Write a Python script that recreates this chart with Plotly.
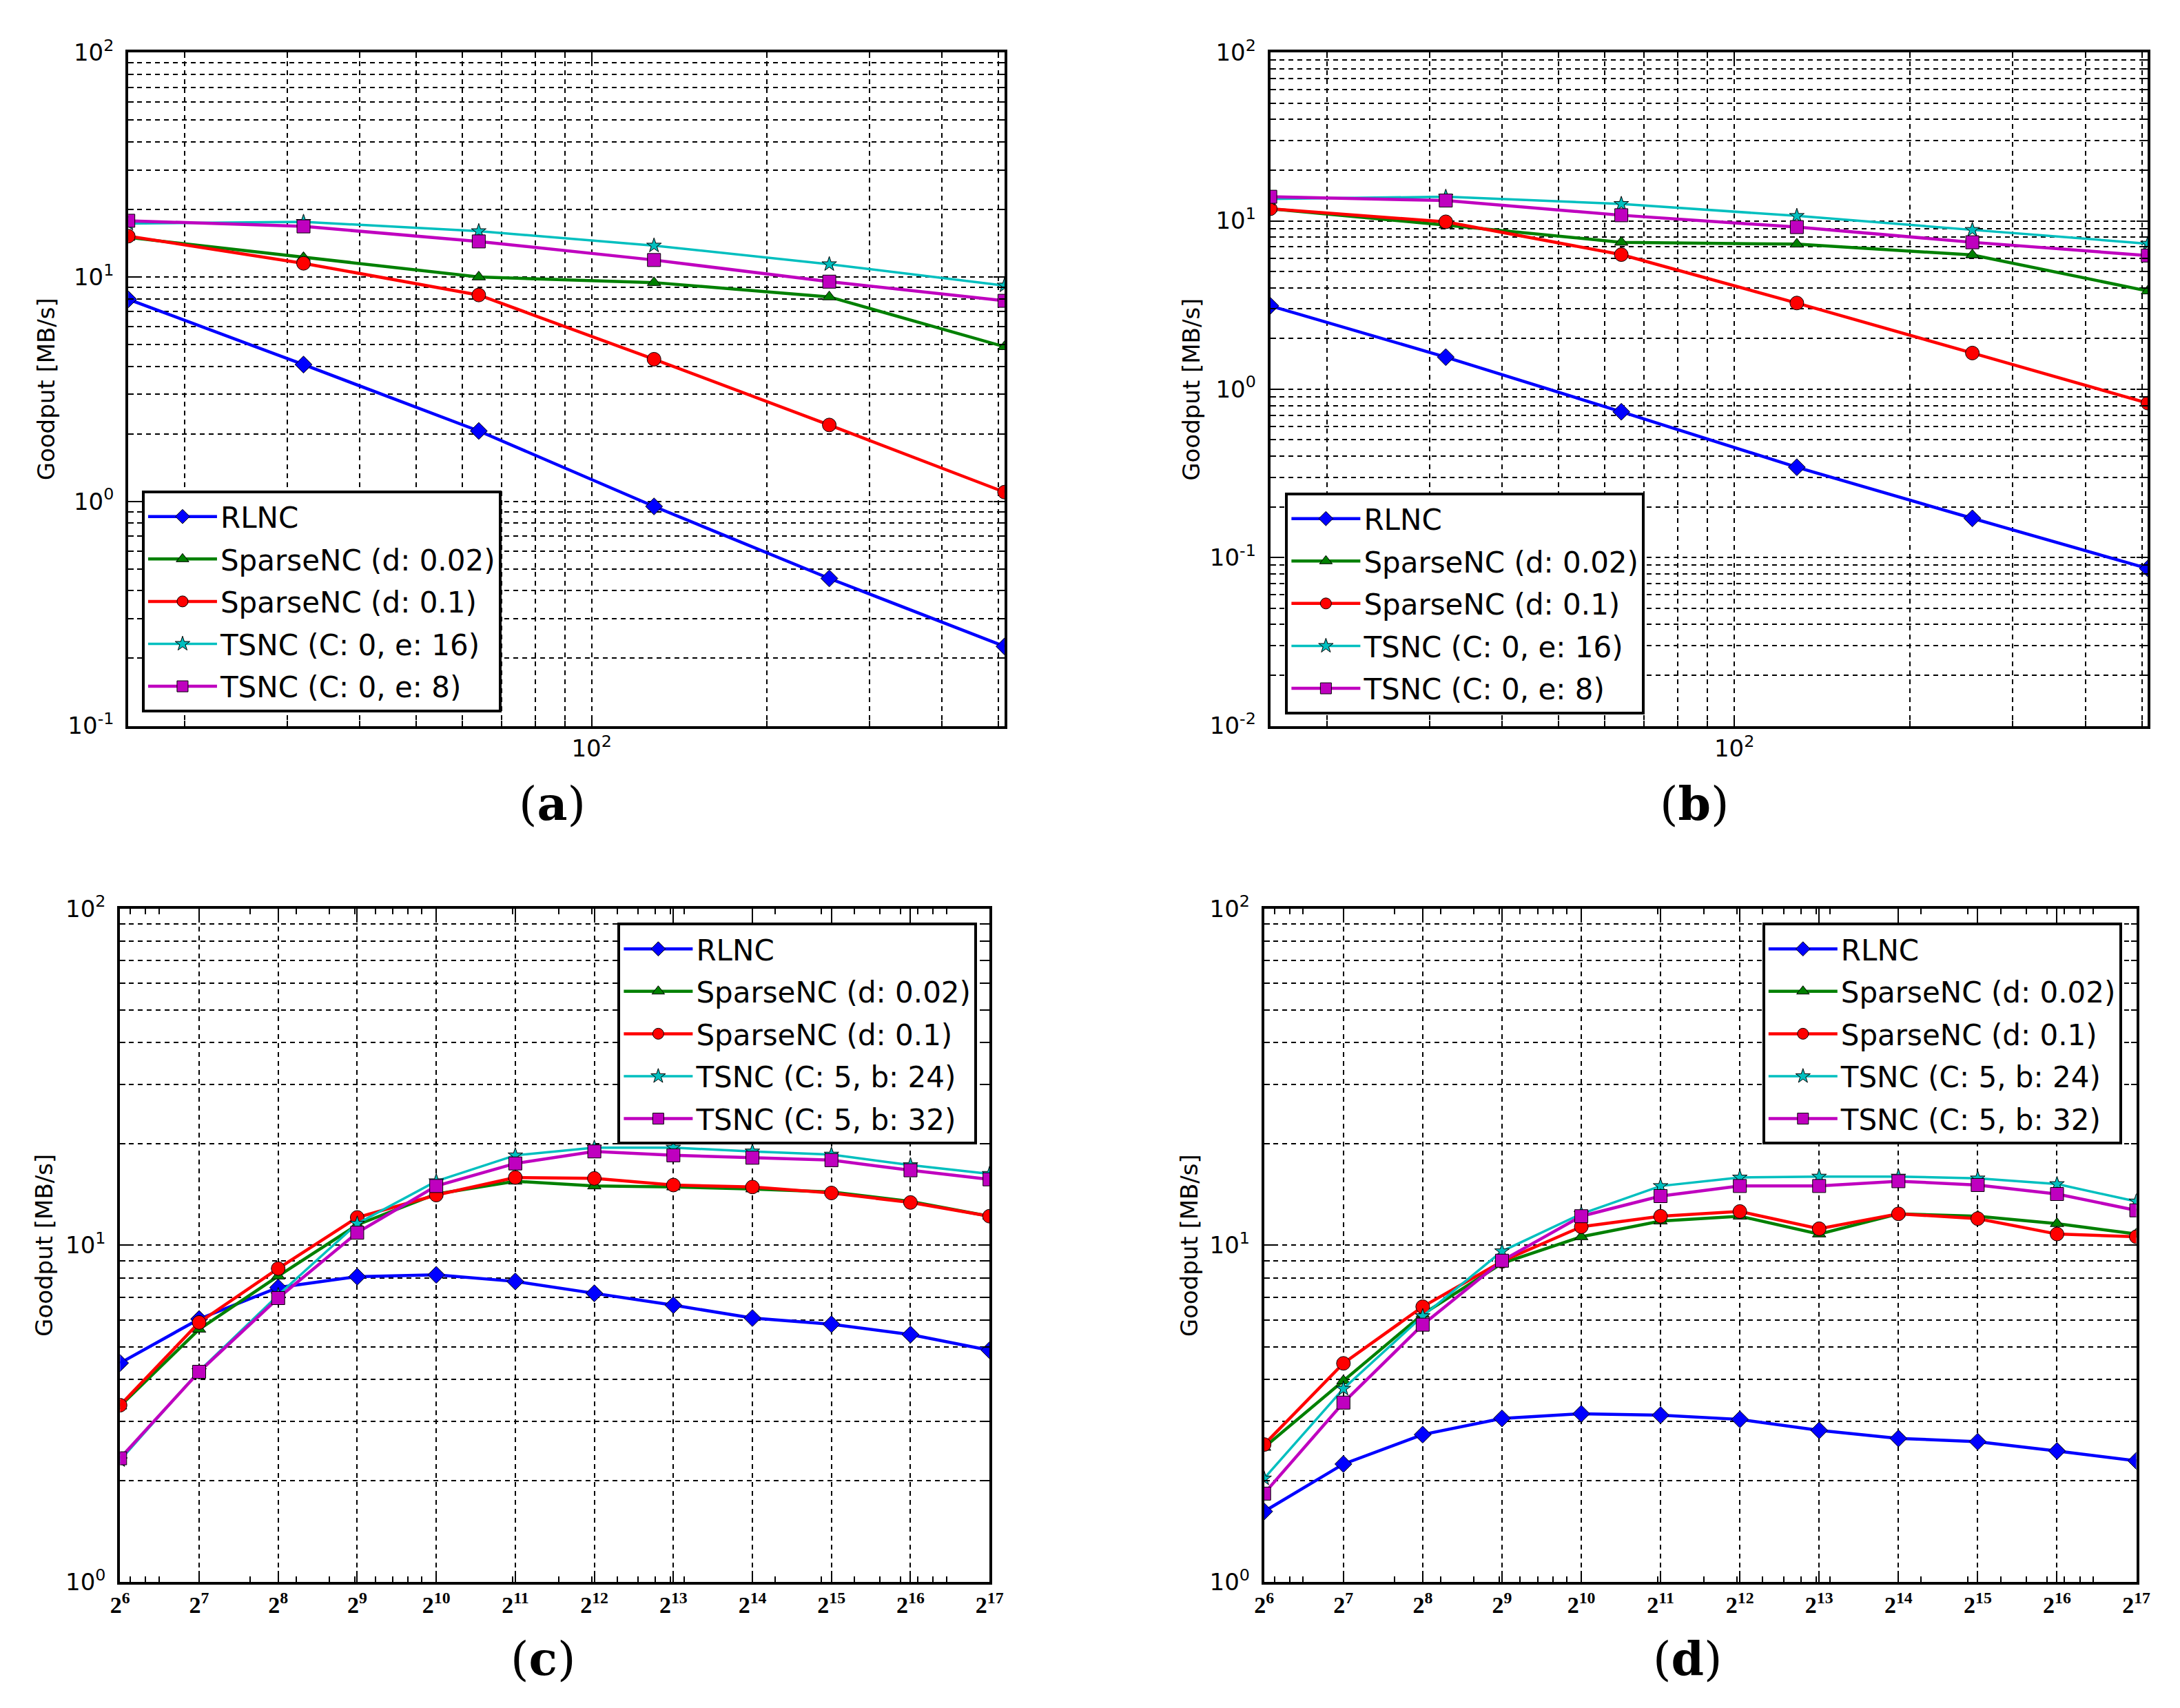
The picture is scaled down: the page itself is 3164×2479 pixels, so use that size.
import plotly.graph_objects as go

W, H = 3164, 2479

# x values
block_sizes = [16, 32, 64, 128, 256, 512]
gen_sizes = [64, 128, 256, 512, 1024, 2048, 4096, 8192, 16384, 32768, 65536, 131072]
gen_ticktext = ["2<sup>%d</sup>" % k for k in range(6, 18)]

names_ab = ["RLNC", "SparseNC (d: 0.02)", "SparseNC (d: 0.1)",
            "TSNC (C: 0, e: 16)", "TSNC (C: 0, e: 8)"]
names_cd = ["RLNC", "SparseNC (d: 0.02)", "SparseNC (d: 0.1)",
            "TSNC (C: 5, b: 24)", "TSNC (C: 5, b: 32)"]

# panel (a)
rlnc_a = [7.95, 4.07, 2.06, 0.95, 0.454, 0.226]
sp002_a = [15.0, 12.2, 10.0, 9.44, 8.15, 4.89]
sp01_a = [15.2, 11.5, 8.31, 4.30, 2.19, 1.10]
tsnc16_a = [17.3, 17.6, 16.0, 13.8, 11.4, 9.16]
tsnc8_a = [17.8, 16.8, 14.4, 11.9, 9.53, 7.83]

# panel (b)
rlnc_b = [3.13, 1.55, 0.734, 0.344, 0.171, 0.086]
sp002_b = [11.8, 9.44, 7.46, 7.27, 6.27, 3.83]
sp01_b = [11.8, 9.87, 6.30, 3.25, 1.64, 0.826]
tsnc16_b = [13.5, 13.9, 12.6, 10.7, 8.84, 7.32]
tsnc8_b = [13.9, 13.2, 10.8, 9.18, 7.46, 6.22]

# panel (c)
rlnc_c = [4.47, 6.04, 7.49, 8.07, 8.17, 7.81, 7.20, 6.64, 6.08, 5.83, 5.43, 4.88]
sp002_c = [3.33, 5.63, 8.10, 11.5, 14.2, 15.5, 15.0, 14.9, 14.7, 14.4, 13.5, 12.2]
sp01_c = [3.35, 5.90, 8.53, 12.1, 14.1, 15.9, 15.8, 15.1, 14.9, 14.3, 13.4, 12.2]
tsnc24_c = [2.30, 4.23, 7.11, 11.6, 15.5, 18.5, 19.5, 19.5, 19.0, 18.6, 17.3, 16.3]
tsnc32_c = [2.33, 4.21, 6.97, 10.9, 15.0, 17.5, 19.0, 18.5, 18.2, 17.9, 16.7, 15.7]

# panel (d)
rlnc_d = [1.62, 2.24, 2.74, 3.06, 3.16, 3.13, 3.04, 2.82, 2.67, 2.61, 2.45, 2.29]
sp002_d = [2.51, 3.96, 6.24, 8.84, 10.6, 11.8, 12.2, 10.8, 12.4, 12.2, 11.6, 10.8]
sp01_d = [2.56, 4.46, 6.57, 8.96, 11.35, 12.2, 12.6, 11.2, 12.4, 12.0, 10.8, 10.6]
tsnc24_d = [2.03, 3.75, 6.16, 9.60, 12.4, 15.0, 15.9, 16.0, 16.0, 15.8, 15.2, 13.5]
tsnc32_d = [1.83, 3.41, 5.81, 9.00, 12.2, 14.0, 15.0, 15.0, 15.5, 15.1, 14.2, 12.7]

STYLES = [
    dict(color='#0000ff', symbol='diamond', size=19, width=4.5),
    dict(color='#008000', symbol='triangle-up', size=17, width=4.5),
    dict(color='#ff0000', symbol='circle', size=20, width=4.5),
    dict(color='#00bfbf', symbol='star', size=16, width=3.5),
    dict(color='#bf00bf', symbol='square', size=19, width=4.5),
]

DASH = "7px,6px"
SANS = "DejaVu Sans"
SERIF = "DejaVu Serif"
TICKSERIF = "Liberation Serif"

# panel boxes in pixels: left, right, top, bottom
BOX = {1: (166, 1452, 45, 1040), 2: (1842, 3130, 45, 1040),
       3: (154, 1430, 1310, 2305), 4: (1833, 3113, 1310, 2305)}


def fx(p):
    return p / W


def fy(p):
    return 1 - p / H


def decade_minor(lo, hi):
    out = []
    for k in range(lo, hi):
        out += [m * 10 ** k for m in range(2, 10)]
    return out


def axis_common():
    return dict(type='log', showline=True, linecolor='black', linewidth=4,
                mirror='ticks', ticks='inside', ticklen=16, tickwidth=1.5,
                tickcolor='black', showgrid=True, gridcolor='black',
                gridwidth=1.5, griddash=DASH, zeroline=False,
                tickmode='array')


def minor(vals, grid):
    return dict(tickmode='array', tickvals=vals, ticks='inside', ticklen=8,
                tickwidth=1.5, tickcolor='black', showgrid=grid,
                gridcolor='black', gridwidth=1.5, griddash=DASH)


fig = go.Figure()

panels = [
    (1, block_sizes, [rlnc_a, sp002_a, sp01_a, tsnc16_a, tsnc8_a], names_ab),
    (2, block_sizes, [rlnc_b, sp002_b, sp01_b, tsnc16_b, tsnc8_b], names_ab),
    (3, gen_sizes, [rlnc_c, sp002_c, sp01_c, tsnc24_c, tsnc32_c], names_cd),
    (4, gen_sizes, [rlnc_d, sp002_d, sp01_d, tsnc24_d, tsnc32_d], names_cd),
]

for idx, xs, series, names in panels:
    sfx = '' if idx == 1 else str(idx)
    leg = 'legend' if idx == 1 else 'legend%d' % idx
    for ys, name, st in zip(series, names, STYLES):
        fig.add_trace(go.Scatter(
            x=xs, y=ys, name=name, mode='lines+markers',
            xaxis='x' + sfx, yaxis='y' + sfx, legend=leg,
            legendgroup='%s_%s' % (leg, name),
            line=dict(color=st['color'], width=st['width']),
            marker=dict(symbol=st['symbol'], size=st['size'], color=st['color'],
                        line=dict(color='black', width=1))))

layout = dict(width=W, height=H, margin=dict(l=0, r=0, t=0, b=0),
              paper_bgcolor='white', plot_bgcolor='white', showlegend=True,
              font=dict(family=SANS, color='black'))

ylo = {1: -1, 2: -2, 3: 0, 4: 0}
for idx in range(1, 5):
    l, r, t, b = BOX[idx]
    sfx = '' if idx == 1 else str(idx)
    xa = axis_common()
    xa['domain'] = [fx(l), fx(r)]
    xa['anchor'] = 'y' + sfx
    if idx <= 2:
        xa['range'] = [1.2041200, 2.7092700]   # 16 .. 512
        xa['tickvals'] = [100]
        xa['ticktext'] = ['10<sup>2</sup>']
        xa['tickfont'] = dict(family=SANS, size=34, color='black')
        xa['minor'] = minor([20, 30, 40, 50, 60, 70, 80, 90, 200, 300, 400, 500], True)
    else:
        xa['range'] = [1.8061800, 5.1175000]   # 2^6 .. 2^17
        xa['tickvals'] = gen_sizes
        xa['ticktext'] = gen_ticktext
        xa['tickfont'] = dict(family=TICKSERIF, size=34, color='black', weight='bold')
        xa['minor'] = minor([70, 80, 90] + decade_minor(2, 5), False)
    ya = axis_common()
    ya['domain'] = [fy(b), fy(t)]
    ya['anchor'] = 'x' + sfx
    ya['range'] = [ylo[idx], 2]
    ya['tickvals'] = [10 ** k for k in range(ylo[idx], 3)]
    ya['ticktext'] = ['10<sup>%d</sup>' % k for k in range(ylo[idx], 3)]
    ya['tickfont'] = dict(family=SANS, size=34, color='black')
    ya['ticklabelstandoff'] = 10
    ya['minor'] = minor(decade_minor(ylo[idx], 2), True)
    layout['xaxis' + sfx] = xa
    layout['yaxis' + sfx] = ya

legend_style = dict(font=dict(family=SANS, size=42, color='black'),
                    bgcolor='white', bordercolor='black', borderwidth=4,
                    itemwidth=100, tracegroupgap=4, xref='paper', yref='paper')
layout['legend'] = dict(legend_style, x=fx(186), y=fy(1020),
                        xanchor='left', yanchor='bottom')
layout['legend2'] = dict(legend_style, x=fx(1864), y=fy(1023),
                         xanchor='left', yanchor='bottom')
layout['legend3'] = dict(legend_style, x=fx(1412), y=fy(1331),
                         xanchor='right', yanchor='top')
layout['legend4'] = dict(legend_style, x=fx(3092), y=fy(1331),
                         xanchor='right', yanchor='top')

annotations = []
labels = [('a', 788, 1154), ('b', 2465, 1154), ('c', 775, 2418), ('d', 2455, 2418)]
for letter, px, py in labels:
    annotations.append(dict(text='(<b>%s</b>)' % letter, x=fx(px), y=fy(py),
                            xref='paper', yref='paper', showarrow=False,
                            xanchor='center', yanchor='middle',
                            font=dict(family=SERIF, size=68, color='black')))
for px, (l, r, t, b) in zip([45, 1726, 43, 1723], [BOX[1], BOX[2], BOX[3], BOX[4]]):
    annotations.append(dict(text='Goodput [MB/s]', x=fx(px), y=fy((t + b) / 2),
                            xref='paper', yref='paper', showarrow=False,
                            textangle=-90, xanchor='center', yanchor='middle',
                            font=dict(family=SANS, size=34, color='black')))
layout['annotations'] = annotations

fig.update_layout(**layout)
fig.write_html("out.html")
